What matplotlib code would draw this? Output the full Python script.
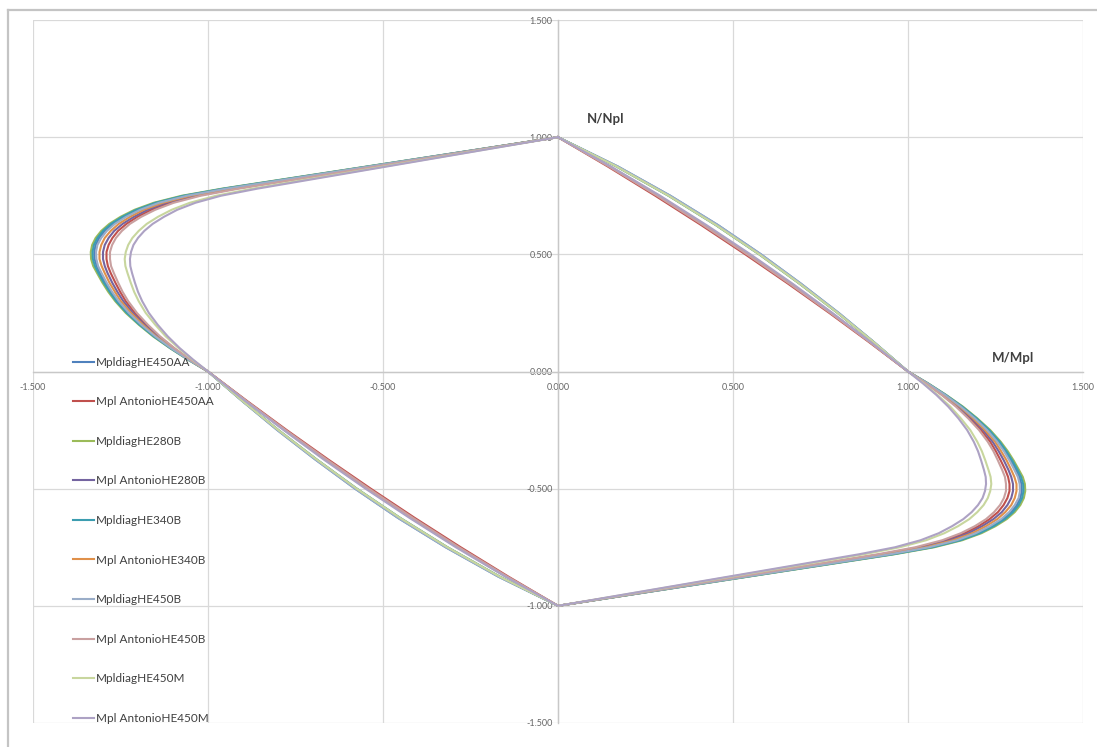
import matplotlib
matplotlib.use("Agg")
import matplotlib.pyplot as plt
from matplotlib.ticker import FuncFormatter
from matplotlib.lines import Line2D

# ---- data (left half of each interaction curve; the
#      right half of the plotted diagram is its point reflection) ----
N_LEVELS = [1.00, 0.85, 0.78, 0.75, 0.72, 0.69, 0.66, 0.63, 0.60, 0.57, 0.54, 0.51,
            0.48, 0.45, 0.42, 0.38, 0.34, 0.30, 0.25, 0.20, 0.15, 0.10, 0.05, 0.00,
            -0.125, -0.25, -0.375, -0.50, -0.625, -0.75, -0.875, -1.00]

series_names = ["MpldiagHE450AA", "Mpl AntonioHE450AA", "MpldiagHE280B", "Mpl AntonioHE280B",
                "MpldiagHE340B", "Mpl AntonioHE340B", "MpldiagHE450B", "Mpl AntonioHE450B",
                "MpldiagHE450M", "Mpl AntonioHE450M"]

M_diag_HE450AA = [0, -0.649, -0.953, -1.065, -1.145, -1.200, -1.240, -1.272, -1.295, -1.311, -1.321, -1.325,
                  -1.324, -1.318, -1.309, -1.294, -1.277, -1.259, -1.229, -1.194, -1.153, -1.107, -1.055, -1.0,
                  -0.903, -0.802, -0.694, -0.580, -0.457, -0.321, -0.171, 0]
M_ant_HE450AA = [0, -0.628, -0.922, -1.031, -1.108, -1.162, -1.202, -1.233, -1.257, -1.273, -1.284, -1.290,
                 -1.290, -1.286, -1.278, -1.265, -1.251, -1.235, -1.209, -1.177, -1.140, -1.098, -1.051, -1.0,
                 -0.889, -0.775, -0.657, -0.535, -0.409, -0.278, -0.142, 0]
M_diag_HE280B = [0, -0.655, -0.961, -1.075, -1.155, -1.210, -1.250, -1.282, -1.305, -1.321, -1.331, -1.335,
                 -1.334, -1.328, -1.317, -1.302, -1.285, -1.265, -1.235, -1.198, -1.157, -1.109, -1.057, -1.0,
                 -0.902, -0.799, -0.690, -0.575, -0.451, -0.316, -0.167, 0]
M_ant_HE280B = [0, -0.634, -0.930, -1.040, -1.119, -1.173, -1.212, -1.244, -1.268, -1.284, -1.295, -1.300,
                -1.300, -1.295, -1.287, -1.274, -1.259, -1.242, -1.215, -1.182, -1.144, -1.101, -1.052, -1.0,
                -0.892, -0.781, -0.665, -0.545, -0.419, -0.287, -0.148, 0]
M_diag_HE340B = [0, -0.652, -0.957, -1.070, -1.150, -1.205, -1.245, -1.277, -1.300, -1.316, -1.326, -1.330,
                 -1.329, -1.323, -1.313, -1.298, -1.281, -1.262, -1.232, -1.196, -1.155, -1.108, -1.056, -1.0,
                 -0.902, -0.799, -0.690, -0.575, -0.451, -0.316, -0.167, 0]
M_ant_HE340B = [0, -0.640, -0.939, -1.050, -1.129, -1.184, -1.223, -1.255, -1.278, -1.295, -1.305, -1.310,
                -1.310, -1.304, -1.295, -1.282, -1.266, -1.249, -1.220, -1.186, -1.148, -1.103, -1.053, -1.0,
                -0.892, -0.781, -0.665, -0.545, -0.419, -0.287, -0.148, 0]
M_diag_HE450B = [0, -0.646, -0.948, -1.060, -1.140, -1.194, -1.234, -1.266, -1.289, -1.305, -1.316, -1.320,
                 -1.319, -1.314, -1.304, -1.290, -1.274, -1.255, -1.226, -1.191, -1.151, -1.106, -1.055, -1.0,
                 -0.903, -0.802, -0.694, -0.580, -0.457, -0.321, -0.171, 0]
M_ant_HE450B = [0, -0.622, -0.913, -1.021, -1.098, -1.151, -1.191, -1.223, -1.246, -1.263, -1.274, -1.280,
                -1.280, -1.277, -1.269, -1.257, -1.244, -1.228, -1.203, -1.172, -1.137, -1.096, -1.050, -1.0,
                -0.891, -0.778, -0.661, -0.540, -0.414, -0.283, -0.145, 0]
M_diag_HE450M = [0, -0.595, -0.874, -0.977, -1.052, -1.104, -1.143, -1.175, -1.198, -1.216, -1.228, -1.235,
                 -1.238, -1.236, -1.230, -1.221, -1.211, -1.198, -1.178, -1.151, -1.121, -1.084, -1.044, -1.0,
                 -0.902, -0.799, -0.690, -0.575, -0.451, -0.316, -0.167, 0]
M_ant_HE450M = [0, -0.586, -0.860, -0.963, -1.036, -1.088, -1.126, -1.158, -1.182, -1.200, -1.213, -1.220,
                -1.223, -1.222, -1.217, -1.209, -1.200, -1.188, -1.169, -1.144, -1.115, -1.081, -1.042, -1.0,
                -0.894, -0.784, -0.670, -0.550, -0.424, -0.292, -0.151, 0]

series_M = [M_diag_HE450AA, M_ant_HE450AA, M_diag_HE280B, M_ant_HE280B, M_diag_HE340B,
            M_ant_HE340B, M_diag_HE450B, M_ant_HE450B, M_diag_HE450M, M_ant_HE450M]

colors = ["#4F81BD", "#C0504D", "#9BBB59", "#7464A0", "#3C9DB0",
          "#E0904A", "#9AADC8", "#C9A0A0", "#C8D69E", "#ADA2C4"]

axis_ticks = [-1.5, -1.0, -0.5, 0.0, 0.5, 1.0, 1.5]

# ---- figure ----
plt.rcParams["font.family"] = ["Lato", "DejaVu Sans"]
fig = plt.figure(figsize=(10.97, 7.47), dpi=100)
fig.patch.set_facecolor("white")

# chart-area border (top & left visible)
fig.add_artist(Line2D([8 / 1097, 1.0], [1 - 10 / 747, 1 - 10 / 747], transform=fig.transFigure,
                      color="#C4C4C4", lw=1.6))
fig.add_artist(Line2D([8 / 1097, 8 / 1097], [0.0, 1 - 10 / 747], transform=fig.transFigure,
                      color="#C4C4C4", lw=1.6))

ax = fig.add_axes([33 / 1097, 1 - 723 / 747, 1050 / 1097, 703 / 747])
ax.set_xlim(axis_ticks[0], axis_ticks[-1])
ax.set_ylim(axis_ticks[0], axis_ticks[-1])

for name, m, c in zip(series_names, series_M, colors):
    xs = list(m) + [-v for v in m]
    ys = list(N_LEVELS) + [-v for v in N_LEVELS]
    ax.plot(xs, ys, color=c, lw=1.5, label=name, solid_joinstyle="round", zorder=3)

ax.set_xticks(axis_ticks)
ax.set_yticks(axis_ticks)
fmt = FuncFormatter(lambda v, p: f"{v:.3f}")
ax.xaxis.set_major_formatter(fmt)
ax.yaxis.set_major_formatter(fmt)
ax.grid(True, color="#D9D9D9", lw=0.9, zorder=0)
ax.set_axisbelow(True)

for s in ["top", "right"]:
    ax.spines[s].set_visible(False)
ax.spines["left"].set_position(("data", 0))
ax.spines["bottom"].set_position(("data", 0))
for s in ["left", "bottom"]:
    ax.spines[s].set_color("#C8C8C8")
    ax.spines[s].set_linewidth(1.0)
ax.tick_params(axis="both", length=0, labelsize=6.5, labelcolor="#666666")
ax.tick_params(axis="x", pad=8)
ax.tick_params(axis="y", pad=4)

ax.text(0.545, 0.859, "N/Npl", transform=ax.transAxes, fontsize=9.5, fontweight="bold",
        color="#404040", ha="center", va="center")
ax.text(0.933, 0.519, "M/Mpl", transform=ax.transAxes, fontsize=9.5, fontweight="bold",
        color="#404040", ha="center", va="center")

leg = ax.legend(loc="upper left", bbox_to_anchor=(0.038, 0.521), frameon=False,
                fontsize=8.5, handlelength=1.8, handletextpad=0.15, labelspacing=2.42,
                borderpad=0, borderaxespad=0)
for t in leg.get_texts():
    t.set_color("#404040")

fig.savefig("out.png", dpi=100, facecolor="white")
